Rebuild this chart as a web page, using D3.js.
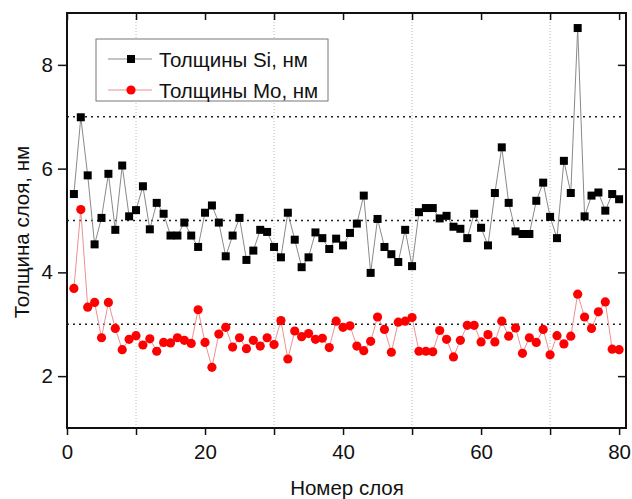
<!DOCTYPE html>
<html>
<head>
    <meta charset="utf-8">
    <title>Толщины слоёв</title>
    <style>
        body { margin: 0; background: #fff; }
        svg text { font-family: "Liberation Sans", Arial, sans-serif; fill: #111; }
    </style>
</head>
<body>
    <div id="chart"></div>

    <script src="https://cdnjs.cloudflare.com/ajax/libs/d3/7.8.5/d3.min.js"></script>
    <script>
        // layer numbers 1..80
        const layers = [
            1, 2, 3, 4, 5, 6, 7, 8, 9, 10, 11, 12, 13, 14, 15, 16, 17, 18, 19, 20,
            21, 22, 23, 24, 25, 26, 27, 28, 29, 30, 31, 32, 33, 34, 35, 36, 37, 38, 39, 40,
            41, 42, 43, 44, 45, 46, 47, 48, 49, 50, 51, 52, 53, 54, 55, 56, 57, 58, 59, 60,
            61, 62, 63, 64, 65, 66, 67, 68, 69, 70, 71, 72, 73, 74, 75, 76, 77, 78, 79, 80
        ];

        // Толщины Si, нм
        const siThickness = [
            5.51, 6.99, 5.87, 4.54, 5.05, 5.90, 4.82, 6.06, 5.08, 5.20,
            5.66, 4.83, 5.34, 5.13, 4.71, 4.71, 4.96, 4.71, 4.49, 5.15,
            5.29, 4.96, 4.31, 4.71, 5.05, 4.24, 4.42, 4.82, 4.78, 4.49,
            4.29, 5.15, 4.63, 4.10, 4.29, 4.77, 4.66, 4.45, 4.65, 4.52,
            4.76, 4.94, 5.48, 3.99, 5.03, 4.49, 4.35, 4.20, 4.82, 4.12,
            5.16, 5.24, 5.24, 5.04, 5.09, 4.88, 4.84, 4.66, 5.13, 4.86,
            4.52, 5.53, 6.41, 5.34, 4.79, 4.74, 4.74, 5.38, 5.73, 5.07,
            4.66, 6.15, 5.53, 8.71, 5.08, 5.48, 5.54, 5.19, 5.51, 5.41
        ];

        // Толщины Mo, нм
        const moThickness = [
            3.69, 5.21, 3.33, 3.42, 2.74, 3.42, 2.92, 2.51, 2.71, 2.78,
            2.60, 2.72, 2.48, 2.65, 2.64, 2.74, 2.69, 2.63, 3.28, 2.65,
            2.17, 2.81, 2.94, 2.56, 2.74, 2.53, 2.69, 2.58, 2.74, 2.61,
            3.07, 2.33, 2.87, 2.76, 2.82, 2.71, 2.73, 2.55, 3.06, 2.94,
            2.97, 2.58, 2.49, 2.67, 3.14, 2.90, 2.46, 3.04, 3.06, 3.13,
            2.48, 2.48, 2.47, 2.88, 2.71, 2.37, 2.69, 2.98, 2.98, 2.66,
            2.80, 2.66, 3.06, 2.77, 2.93, 2.44, 2.74, 2.65, 2.90, 2.41,
            2.78, 2.62, 2.77, 3.58, 3.14, 2.92, 3.24, 3.43, 2.52, 2.51
        ];

        const xTicks = [0, 20, 40, 60, 80];
        const xMinorTicks = [10, 30, 50, 70];
        const yTicks = [2, 4, 6, 8];
        const yMinorTicks = [3, 5, 7];

        const width = 632, height = 499;
        const margin = { top: 13, right: 6, bottom: 71, left: 67 };
        const fontSize = "20.5px";

        const svg = d3.select("#chart").append("svg")
            .attr("width", width)
            .attr("height", height);

        const x = d3.scaleLinear().domain([0, 81]).range([margin.left, width - margin.right]);
        const y = d3.scaleLinear().domain([1, 9]).range([height - margin.bottom, margin.top]);

        const x0 = x.range()[0], x1 = x.range()[1];
        const y0 = y.range()[0], y1 = y.range()[1];

        // vertical light grid at minor x ticks
        svg.append("g")
            .selectAll("line")
            .data(xMinorTicks)
            .join("line")
            .attr("x1", d => x(d)).attr("x2", d => x(d))
            .attr("y1", y0).attr("y2", y1)
            .attr("stroke", "#b8b8b8")
            .attr("stroke-width", 1)
            .attr("stroke-dasharray", "1,2");

        // horizontal dotted grid at minor y ticks
        svg.append("g")
            .selectAll("line")
            .data(yMinorTicks)
            .join("line")
            .attr("x1", x0).attr("x2", x1)
            .attr("y1", d => y(d)).attr("y2", d => y(d))
            .attr("stroke", "#222")
            .attr("stroke-width", 1.5)
            .attr("stroke-dasharray", "2,4");

        // axes
        const allX = xTicks.concat(xMinorTicks).sort(d3.ascending);

        const bottomAxis = svg.append("g")
            .attr("transform", `translate(0,${y0})`)
            .call(d3.axisBottom(x).tickValues(allX).tickSize(7).tickSizeOuter(0)
                .tickFormat(d => xTicks.includes(d) ? d : ""));
        bottomAxis.selectAll("text").attr("dy", "1.0em");

        svg.append("g")
            .attr("transform", `translate(0,${y1})`)
            .call(d3.axisBottom(x).tickValues(allX).tickSize(7).tickSizeOuter(0).tickFormat(""));

        svg.append("g")
            .attr("transform", `translate(${x0},0)`)
            .call(d3.axisLeft(y).tickValues(yTicks).tickSize(9).tickSizeOuter(0).tickPadding(5));

        svg.append("g")
            .attr("transform", `translate(${x1},0)`)
            .call(d3.axisLeft(y).tickValues(yTicks).tickSize(8).tickSizeOuter(0).tickFormat(""));

        svg.selectAll(".domain").remove();
        svg.selectAll(".tick line").attr("stroke", "#111").attr("stroke-width", 1.5);
        svg.selectAll(".tick text").style("font-size", fontSize).attr("fill", "#111");

        // frame
        svg.append("rect")
            .attr("x", x0).attr("y", y1)
            .attr("width", x1 - x0).attr("height", y0 - y1)
            .attr("fill", "none")
            .attr("stroke", "#111")
            .attr("stroke-width", 2);

        // axis titles
        svg.append("text")
            .attr("x", 347).attr("y", 495)
            .attr("text-anchor", "middle")
            .style("font-size", fontSize)
            .text("Номер слоя");

        svg.append("text")
            .attr("transform", "translate(29,232) rotate(-90)")
            .attr("text-anchor", "middle")
            .style("font-size", fontSize)
            .text("Толщина слоя, нм");

        // series
        const siData = layers.map((d, i) => ({ x: d, y: siThickness[i] }));
        const moData = layers.map((d, i) => ({ x: d, y: moThickness[i] }));

        const line = d3.line().x(d => x(d.x)).y(d => y(d.y));

        svg.append("path")
            .datum(siData)
            .attr("d", line)
            .attr("fill", "none")
            .attr("stroke", "#8a8a8a")
            .attr("stroke-width", 1);

        svg.append("path")
            .datum(moData)
            .attr("d", line)
            .attr("fill", "none")
            .attr("stroke", "#ee9090")
            .attr("stroke-width", 1);

        svg.append("g")
            .selectAll("rect")
            .data(siData)
            .join("rect")
            .attr("x", d => x(d.x) - 4)
            .attr("y", d => y(d.y) - 4)
            .attr("width", 8).attr("height", 8)
            .attr("fill", "#000");

        svg.append("g")
            .selectAll("circle")
            .data(moData)
            .join("circle")
            .attr("cx", d => x(d.x))
            .attr("cy", d => y(d.y))
            .attr("r", 4.6)
            .attr("fill", "#ff0000");

        // legend
        const legend = svg.append("g");
        legend.append("rect")
            .attr("x", 96).attr("y", 39)
            .attr("width", 232).attr("height", 62)
            .attr("fill", "#fff")
            .attr("stroke", "#777")
            .attr("stroke-width", 1);

        const legendItems = [
            { label: "Толщины Si, нм", line: "#8a8a8a", type: "square", cy: 59 },
            { label: "Толщины Mo, нм", line: "#ee9090", type: "circle", cy: 90 }
        ];

        legendItems.forEach(item => {
            legend.append("line")
                .attr("x1", 108).attr("x2", 152)
                .attr("y1", item.cy).attr("y2", item.cy)
                .attr("stroke", item.line).attr("stroke-width", 1);
            if (item.type === "square") {
                legend.append("rect")
                    .attr("x", 131 - 4).attr("y", item.cy - 4)
                    .attr("width", 8).attr("height", 8)
                    .attr("fill", "#000");
            } else {
                legend.append("circle")
                    .attr("cx", 131).attr("cy", item.cy)
                    .attr("r", 4.6).attr("fill", "#ff0000");
            }
            legend.append("text")
                .attr("x", 159).attr("y", item.cy + 7.5)
                .style("font-size", fontSize)
                .text(item.label);
        });
    </script>
</body>
</html>
